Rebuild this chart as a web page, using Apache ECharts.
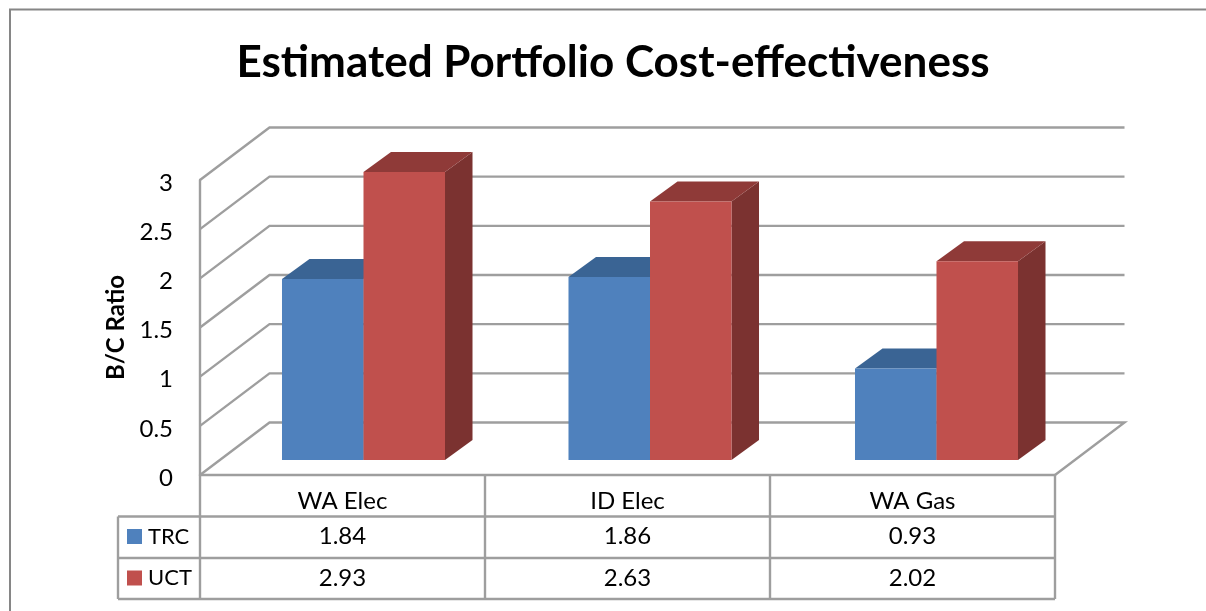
<!DOCTYPE html>
<html>
<head>
<meta charset="utf-8">
<style>html,body{margin:0;padding:0;background:#fff}#c{width:1206px;height:611px}</style>
<script src="https://cdn.jsdelivr.net/npm/echarts@6/dist/echarts.min.js"></script>
</head>
<body>
<div id="c"></div>
<script>
const chartTitle = 'Estimated Portfolio Cost-effectiveness';
const axisTitle = 'B/C Ratio';
const categories = ['WA Elec', 'ID Elec', 'WA Gas'];
const seriesNames = ['TRC', 'UCT'];
const trcValues = [1.84, 1.86, 0.93];
const uctValues = [2.93, 2.63, 2.02];
const valueTicks = [0, 0.5, 1, 1.5, 2, 2.5, 3];

const FONT = 'Lato, "Open Sans", sans-serif';
const LINE = '#9e9e9e';
const LW = 2.4;
const WALL = {dx: 69.5, dy: -52.5};
const BAR = {dx: 21, dy: -15, depthX: 27.5, depthY: -20, share: 0.286, spread: 1.5};
const TABLE = {left: 118, rows: [516.5, 558, 599], rowY: [536.5, 578]};
const PALETTE = [
  {front: '#4f81bd', top: '#3a6494', side: '#335a87'},
  {front: '#c0504d', top: '#8f3a38', side: '#7b3230'}
];

function barSeries(idx, values) {
  return {
    type: 'custom', name: seriesNames[idx], z: 5 + idx,
    data: values.map((v, i) => [i, v]),
    encode: {x: 0, y: 1},
    renderItem(params, api) {
      const c = api.value(0), v = api.value(1);
      const top = api.coord([c, v]), base = api.coord([c, 0]);
      const band = api.size([1, 0])[0];
      const w = band * BAR.share;
      const x0 = top[0] + BAR.dx + c * BAR.spread + (idx - 1) * w, x1 = x0 + w;
      const yT = top[1] + BAR.dy, yB = base[1] + BAR.dy;
      const dx = BAR.depthX, dy = BAR.depthY, col = PALETTE[idx];
      return {type: 'group', children: [
        {type: 'polygon', shape: {points: [[x1, yT], [x1 + dx, yT + dy], [x1 + dx, yB + dy], [x1, yB]]}, style: {fill: col.side}},
        {type: 'polygon', shape: {points: [[x0, yT], [x0 + dx, yT + dy], [x1 + dx, yT + dy], [x1, yT]]}, style: {fill: col.top}},
        {type: 'rect', shape: {x: x0, y: yT, width: w, height: yB - yT}, style: {fill: col.front}}
      ]};
    }
  };
}

const cellData = [];
[trcValues, uctValues].forEach((vals, r) => vals.forEach((v, c) => cellData.push([c, 0, r, v.toFixed(2)])));

const option = {
  animation: false,
  backgroundColor: '#ffffff',
  title: {
    text: chartTitle, left: 608, top: 36, textAlign: 'center',
    textStyle: {fontFamily: FONT, fontSize: 44, fontWeight: 'bold', color: '#000'}
  },
  graphic: [{
    type: 'polyline', silent: true, z: 0,
    shape: {points: [[10, 611], [10, 9.5], [1206, 9.5]]},
    style: {stroke: '#868686', lineWidth: 2, fill: null}
  }],
  grid: {left: 200, top: 180, width: 855, height: 295},
  xAxis: {
    type: 'category', data: categories,
    axisLine: {show: true, lineStyle: {color: LINE, width: LW}},
    axisTick: {show: false},
    axisLabel: {margin: 14, fontFamily: FONT, fontSize: 24, color: '#000'}
  },
  yAxis: {
    type: 'value', min: 0, max: 3, interval: 0.5,
    name: axisTitle, nameLocation: 'middle', nameGap: 72,
    nameTextStyle: {fontFamily: FONT, fontSize: 24, fontWeight: 'bold', color: '#000'},
    axisLine: {show: true, lineStyle: {color: LINE, width: LW}},
    axisTick: {show: false},
    splitLine: {show: false},
    axisLabel: {
      margin: 27, fontFamily: FONT, fontSize: 24, color: '#000',
      formatter: '{t|{value}}',
      rich: {t: {fontFamily: FONT, fontSize: 24, color: '#000', padding: [6, 0, 0, 0]}}
    }
  },
  series: [
    {
      type: 'custom', name: 'walls', z: 1, silent: true,
      data: valueTicks.map(t => [0, t]),
      encode: {y: 1},
      renderItem(params, api) {
        const cs = params.coordSys;
        const y = api.coord([0, api.value(1)])[1];
        const pts = [[cs.x, y], [cs.x + WALL.dx, y + WALL.dy], [cs.x + cs.width + WALL.dx, y + WALL.dy]];
        if (api.value(1) === 0) pts.push([cs.x + cs.width, y]);
        return {type: 'polyline', shape: {points: pts}, style: {stroke: LINE, lineWidth: LW, fill: null}};
      }
    },
    barSeries(0, trcValues),
    barSeries(1, uctValues),
    {
      type: 'custom', name: 'table lines', z: 2, silent: true,
      data: [[0, 0]],
      encode: {x: 0, y: 1},
      renderItem(params, api) {
        const cs = params.coordSys, right = cs.x + cs.width, bottom = cs.y + cs.height;
        const last = TABLE.rows[TABLE.rows.length - 1];
        const st = {stroke: LINE, lineWidth: LW};
        const children = TABLE.rows.map(y => ({type: 'line', shape: {x1: TABLE.left, y1: y, x2: right, y2: y}, style: st}));
        children.push({type: 'line', shape: {x1: TABLE.left, y1: TABLE.rows[0], x2: TABLE.left, y2: last}, style: st});
        for (let i = 0; i <= categories.length; i++) {
          const x = cs.x + cs.width * i / categories.length;
          children.push({type: 'line', shape: {x1: x, y1: bottom, x2: x, y2: last}, style: st});
        }
        return {type: 'group', children};
      }
    },
    {
      type: 'custom', name: 'table values', z: 3, silent: true,
      data: cellData,
      encode: {x: 0, y: 1},
      renderItem(params, api) {
        const x = api.coord([api.value(0), 0])[0];
        return {type: 'text', style: {
          x, y: TABLE.rowY[api.value(2)], text: cellData[params.dataIndex][3],
          align: 'center', verticalAlign: 'middle', fontFamily: FONT, fontSize: 24, fill: '#000'
        }};
      }
    },
    {
      type: 'custom', name: 'table keys', z: 3, silent: true,
      data: seriesNames.map((n, i) => [0, 0, i]),
      encode: {x: 0, y: 1},
      renderItem(params, api) {
        const r = api.value(2), y = TABLE.rowY[r];
        return {type: 'group', children: [
          {type: 'rect', shape: {x: 127, y: y - 7.5, width: 15, height: 15}, style: {fill: PALETTE[r].front}},
          {type: 'text', style: {x: 148, y, text: seriesNames[r], align: 'left', verticalAlign: 'middle', fontFamily: FONT, fontSize: 22, fill: '#000'}}
        ]};
      }
    }
  ]
};
const chart = echarts.init(document.getElementById('c'), null, {renderer: 'canvas'});
chart.setOption(option);
</script>
</body>
</html>
